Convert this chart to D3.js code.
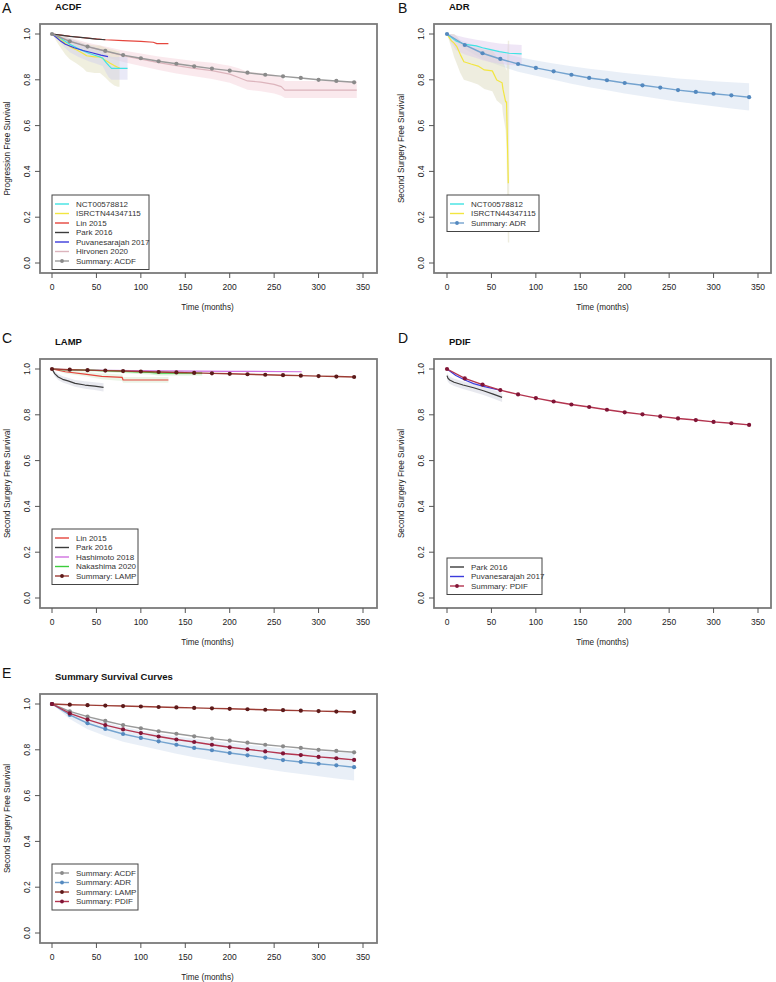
<!DOCTYPE html>
<html><head><meta charset="utf-8">
<script src="https://cdn.jsdelivr.net/npm/d3@7/dist/d3.min.js"></script>
<style>body{margin:0;background:#fff}svg{display:block}text{font-family:"Liberation Sans",Arial,sans-serif}</style>
</head><body><svg id="c" width="776" height="982"></svg>
<script>
// ---------- data ----------
const xTicks = [0, 50, 100, 150, 200, 250, 300, 350];
const yTicks = [0, 0.2, 0.4, 0.6, 0.8, 1.0];
const yTickLabels = ["0.0", "0.2", "0.4", "0.6", "0.8", "1.0"];

const summaryTimes = [0, 20, 40, 60, 80, 100, 120, 140, 160, 180, 200, 220, 240, 260, 280, 300, 320, 340];
const acdfSummary = [1.000, 0.968, 0.945, 0.926, 0.908, 0.894, 0.881, 0.870, 0.859, 0.849, 0.840, 0.831, 0.822, 0.815, 0.808, 0.800, 0.795, 0.789];
const adrSummary  = [1.000, 0.952, 0.916, 0.891, 0.869, 0.852, 0.837, 0.822, 0.808, 0.798, 0.786, 0.776, 0.766, 0.755, 0.747, 0.739, 0.732, 0.724];
const adrLower    = [1.000, 0.935, 0.890, 0.860, 0.835, 0.818, 0.800, 0.783, 0.767, 0.754, 0.740, 0.728, 0.716, 0.704, 0.694, 0.684, 0.675, 0.666];
const adrUpper    = [1.000, 0.966, 0.940, 0.920, 0.900, 0.884, 0.871, 0.859, 0.848, 0.839, 0.830, 0.822, 0.814, 0.806, 0.800, 0.794, 0.789, 0.785];
const lampSummary = [1.000, 0.997, 0.995, 0.993, 0.991, 0.989, 0.987, 0.985, 0.983, 0.981, 0.979, 0.977, 0.975, 0.973, 0.971, 0.969, 0.967, 0.965];
const pdifSummary = [1.000, 0.959, 0.932, 0.908, 0.889, 0.873, 0.858, 0.845, 0.834, 0.822, 0.811, 0.802, 0.793, 0.784, 0.777, 0.769, 0.763, 0.756];

// Panel A (ACDF) studies
const nctA_t = [0, 5, 12, 20, 30, 42, 50, 57, 61, 64, 67, 85];
const nctA_s = [1, 0.995, 0.975, 0.955, 0.935, 0.915, 0.905, 0.895, 0.875, 0.862, 0.850, 0.850];
const nctA_lo = [1, 0.99, 0.95, 0.92, 0.90, 0.88, 0.87, 0.86, 0.83, 0.81, 0.80, 0.80];
const nctA_hi = [1, 1, 0.99, 0.98, 0.965, 0.95, 0.94, 0.93, 0.915, 0.905, 0.90, 0.90];
const isrA_t = [0, 8, 15, 20, 28, 35, 39, 48, 54, 60, 65, 70, 74, 76];
const isrA_s = [1, 0.98, 0.96, 0.945, 0.93, 0.915, 0.905, 0.90, 0.90, 0.885, 0.873, 0.862, 0.855, 0.852];
const isrA_lo = [1, 0.95, 0.91, 0.89, 0.87, 0.85, 0.835, 0.83, 0.83, 0.81, 0.79, 0.775, 0.77, 0.77];
const isrA_hi = [1, 1, 0.99, 0.98, 0.97, 0.96, 0.955, 0.95, 0.95, 0.94, 0.935, 0.93, 0.925, 0.925];
const linA_t = [0, 10, 25, 40, 60, 80, 100, 114, 118, 131];
const linA_s = [1, 0.995, 0.988, 0.982, 0.975, 0.971, 0.968, 0.964, 0.958, 0.958];
const parkA_t = [0, 10, 20, 35, 50, 60];
const parkA_s = [1, 0.995, 0.990, 0.984, 0.978, 0.975];
const puvA_t = [0, 5, 10, 15, 25, 35, 45, 55, 63];
const puvA_s = [1, 0.985, 0.968, 0.955, 0.940, 0.928, 0.918, 0.908, 0.901];
const hirA_t = [0, 20, 40, 60, 80, 100, 120, 140, 160, 180, 200, 210, 220, 235, 250, 258, 262, 343];
const hirA_s = [1, 0.97, 0.945, 0.925, 0.905, 0.89, 0.875, 0.862, 0.85, 0.84, 0.825, 0.81, 0.795, 0.79, 0.78, 0.77, 0.755, 0.755];
const hirA_lo = [1, 0.955, 0.925, 0.90, 0.878, 0.86, 0.843, 0.828, 0.815, 0.803, 0.787, 0.772, 0.757, 0.75, 0.74, 0.73, 0.72, 0.72];
const hirA_hi = [1, 0.985, 0.962, 0.945, 0.928, 0.915, 0.902, 0.892, 0.882, 0.874, 0.861, 0.85, 0.835, 0.83, 0.822, 0.812, 0.795, 0.795];

// Panel B (ADR) studies
const nctB_t = [0, 5, 10, 20, 33, 40, 48, 59, 70, 84];
const nctB_s = [1, 0.985, 0.97, 0.955, 0.948, 0.94, 0.933, 0.923, 0.916, 0.913];
const nctB_lo = [1, 0.96, 0.93, 0.91, 0.895, 0.885, 0.878, 0.87, 0.865, 0.862];
const nctB_hi = [1, 1, 0.995, 0.985, 0.975, 0.97, 0.965, 0.958, 0.955, 0.952];
const isrB_t = [0, 5, 8, 11, 15, 19, 27, 35, 42, 51, 56, 62, 63, 66, 67, 69];
const isrB_s = [1, 0.97, 0.96, 0.945, 0.91, 0.879, 0.869, 0.86, 0.843, 0.839, 0.799, 0.787, 0.759, 0.704, 0.704, 0.348];
const isrB_bandT = [0, 5, 8, 11, 15, 19, 27, 35, 42, 51, 56, 62, 63, 66, 67, 68.5, 70];
const isrB_lo = [1, 0.94, 0.90, 0.87, 0.83, 0.80, 0.79, 0.78, 0.76, 0.75, 0.71, 0.69, 0.65, 0.58, 0.50, 0.09, 0.09];
const isrB_hi = [1, 1, 1, 0.99, 0.97, 0.95, 0.94, 0.94, 0.93, 0.93, 0.90, 0.90, 0.88, 0.85, 0.84, 0.97, 0.97];

// Panel C (LAMP) studies
const linC_t = [0, 15, 37, 56, 79, 80, 131];
const linC_s = [1, 0.988, 0.978, 0.968, 0.963, 0.952, 0.952];
const linC_lo = [1, 0.98, 0.968, 0.955, 0.948, 0.94, 0.94];
const linC_hi = [1, 0.995, 0.988, 0.98, 0.976, 0.965, 0.965];
const parkC_t = [0, 3, 7, 12, 18, 26, 37, 48, 58];
const parkC_s = [1, 0.98, 0.965, 0.955, 0.948, 0.937, 0.93, 0.925, 0.92];
const parkC_lo = [1, 0.968, 0.952, 0.941, 0.933, 0.922, 0.914, 0.908, 0.902];
const parkC_hi = [1, 0.99, 0.978, 0.968, 0.962, 0.952, 0.946, 0.942, 0.938];
const hashC_t = [0, 20, 60, 120, 200, 281];
const hashC_s = [1, 0.996, 0.994, 0.992, 0.99, 0.988];
const nakaC_t = [0, 10, 40, 80, 110, 120, 169];
const nakaC_s = [1, 0.997, 0.995, 0.99, 0.985, 0.982, 0.982];
const nakaC_lo = [1, 0.993, 0.99, 0.983, 0.976, 0.972, 0.972];
const nakaC_hi = [1, 1, 0.999, 0.996, 0.993, 0.991, 0.991];

// Panel D (PDIF) studies
const parkD_t = [0, 1, 3, 8, 18, 30, 41, 52, 62];
const parkD_s = [0.971, 0.96, 0.952, 0.942, 0.93, 0.918, 0.905, 0.89, 0.876];
const parkD_lo = [0.955, 0.944, 0.936, 0.926, 0.913, 0.9, 0.886, 0.871, 0.856];
const parkD_hi = [0.985, 0.975, 0.967, 0.957, 0.946, 0.935, 0.922, 0.908, 0.895];
const puvD_t = [0, 10, 20, 30, 41, 52, 62];
const puvD_s = [1, 0.972, 0.952, 0.936, 0.924, 0.914, 0.905];

// ---------- styles ----------
const C = {
  nct: "#3fe3e3", isr: "#f2e640", lin: "#e5463d", park: "#3c3c3c", puv: "#3b3bdc", hir: "#dcb4bc",
  hash: "#d070e0", naka: "#3ccc3c",
  acdfL: "#9a9a9a", acdfP: "#8a8a8a", adrL: "#74a3cf", adrP: "#5489bf",
  lampL: "#9c3c34", lampP: "#5c1a1a", pdifL: "#b3344f", pdifP: "#801536"
};

const svg = d3.select("#c");
const cols = [
  {box: [40, 377], range: [52, 363], tickLab: 27, ytitle: 7, letterX: 2},
  {box: [434, 771], range: [447, 758], tickLab: 421, ytitle: 401, letterX: 398}
];
const rowOff = [0, 335, 670];

function zip(t, s) { return t.map((d, i) => ({t: d, s: s[i]})); }
function zipBand(t, lo, hi) { return t.map((d, i) => ({t: d, lo: lo[i], hi: hi[i]})); }

function panel(cfg) {
  const col = cols[cfg.col], off = rowOff[cfg.row];
  const x = d3.scaleLinear().domain([0, 350]).range(col.range);
  const y = d3.scaleLinear().domain([0, 1]).range([263 + off, 34 + off]);
  const g = svg.append("g");
  const top = 24 + off, bot = 273 + off;

  g.append("text").attr("x", col.letterX).attr("y", cfg.letterY).attr("font-size", 14).attr("fill", "#111").text(cfg.letter);
  g.append("text").attr("x", col.box[0] + 15).attr("y", top - 14).attr("font-size", 9.5).attr("font-weight", "bold").attr("fill", "#111").text(cfg.title);

  (cfg.bands || []).forEach(b => {
    const area = d3.area().x(d => x(d.t)).y0(d => y(d.lo)).y1(d => y(d.hi));
    g.append("path").datum(zipBand(b.t, b.lo, b.hi)).attr("d", area)
      .attr("fill", b.color).attr("fill-opacity", b.op || 0.35).attr("stroke", "none");
  });

  (cfg.lines || []).forEach(l => {
    const line = d3.line().x(d => x(d.t)).y(d => y(d.s));
    g.append("path").datum(zip(l.t, l.s)).attr("d", line).attr("fill", "none")
      .attr("stroke", l.color).attr("stroke-width", l.w || 1.2).attr("stroke-linejoin", "round");
  });

  (cfg.summaries || []).forEach(sm => {
    const line = d3.line().x(d => x(d.t)).y(d => y(d.s));
    const data = zip(summaryTimes, sm.s);
    g.append("path").datum(data).attr("d", line).attr("fill", "none")
      .attr("stroke", sm.line).attr("stroke-width", 1.4);
    g.selectAll(null).data(data).enter().append("circle")
      .attr("cx", d => x(d.t)).attr("cy", d => y(d.s)).attr("r", 2.1).attr("fill", sm.pt);
  });

  g.append("rect").attr("x", col.box[0]).attr("y", top).attr("width", col.box[1] - col.box[0])
    .attr("height", bot - top).attr("fill", "none").attr("stroke", "#7a7a7a").attr("stroke-width", 1.8);

  xTicks.forEach(v => {
    g.append("line").attr("x1", x(v)).attr("x2", x(v)).attr("y1", bot).attr("y2", bot + 5).attr("stroke", "#555").attr("stroke-width", 1);
    g.append("text").attr("x", x(v)).attr("y", bot + 17).attr("text-anchor", "middle").attr("font-size", 8.5).attr("fill", "#222").text(v);
  });
  g.append("text").attr("x", (col.range[0] + col.range[1]) / 2).attr("y", bot + 37).attr("text-anchor", "middle")
    .attr("font-size", 8.2).attr("fill", "#222").text("Time (months)");

  yTicks.forEach((v, i) => {
    g.append("line").attr("x1", col.box[0] - 5).attr("x2", col.box[0]).attr("y1", y(v)).attr("y2", y(v)).attr("stroke", "#555").attr("stroke-width", 1);
    g.append("text").attr("transform", `translate(${col.tickLab},${y(v)}) rotate(-90)`).attr("text-anchor", "middle")
      .attr("dominant-baseline", "central").attr("font-size", 8.5).attr("fill", "#222").text(yTickLabels[i]);
  });
  g.append("text").attr("transform", `translate(${col.ytitle},${(top + bot) / 2}) rotate(-90)`).attr("text-anchor", "middle")
    .attr("dominant-baseline", "central").attr("font-size", 8.2).attr("fill", "#222").text(cfg.ylab);

  const L = cfg.legend;
  const lg = g.append("g");
  lg.append("rect").attr("x", L.x).attr("y", L.y).attr("width", L.w).attr("height", L.items.length * 9.5 + 8)
    .attr("fill", "#fff").attr("stroke", "#444").attr("stroke-width", 1);
  L.items.forEach((it, i) => {
    const yy = L.y + 9 + i * 9.5;
    lg.append("line").attr("x1", L.x + 3).attr("x2", L.x + 17).attr("y1", yy).attr("y2", yy)
      .attr("stroke", it.color).attr("stroke-width", 1.4);
    if (it.pt) lg.append("circle").attr("cx", L.x + 10).attr("cy", yy).attr("r", 1.9).attr("fill", it.pt);
    lg.append("text").attr("x", L.x + 24).attr("y", yy).attr("dominant-baseline", "central")
      .attr("font-size", 8).attr("fill", "#333").text(it.label);
  });
}

panel({
  letter: "A", title: "ACDF", ylab: "Progression Free Survival", col: 0, row: 0, letterY: 13,
  bands: [
    {t: hirA_t, lo: hirA_lo, hi: hirA_hi, color: "#f3c9d2", op: 0.4},
    {t: isrA_t, lo: isrA_lo, hi: isrA_hi, color: "#dedcb8", op: 0.45},
    {t: nctA_t, lo: nctA_lo, hi: nctA_hi, color: "#cfcfee", op: 0.45}
  ],
  lines: [
    {t: hirA_t, s: hirA_s, color: C.hir},
    {t: isrA_t, s: isrA_s, color: C.isr},
    {t: nctA_t, s: nctA_s, color: C.nct},
    {t: puvA_t, s: puvA_s, color: C.puv},
    {t: linA_t, s: linA_s, color: C.lin},
    {t: parkA_t, s: parkA_s, color: C.park}
  ],
  summaries: [{s: acdfSummary, line: C.acdfL, pt: C.acdfP}],
  legend: {x: 52, y: 195, w: 97, items: [
    {label: "NCT00578812", color: C.nct},
    {label: "ISRCTN44347115", color: C.isr},
    {label: "Lin 2015", color: C.lin},
    {label: "Park 2016", color: C.park},
    {label: "Puvanesarajah 2017", color: C.puv},
    {label: "Hirvonen 2020", color: C.hir},
    {label: "Summary: ACDF", color: C.acdfL, pt: C.acdfP}
  ]}
});

panel({
  letter: "B", title: "ADR", ylab: "Second Surgery Free Survival", col: 1, row: 0, letterY: 13,
  bands: [
    {t: summaryTimes, lo: adrLower, hi: adrUpper, color: "#c9d8ec", op: 0.4},
    {t: isrB_bandT, lo: isrB_lo, hi: isrB_hi, color: "#dedcc0", op: 0.5},
    {t: nctB_t, lo: nctB_lo, hi: nctB_hi, color: "#dcc8ec", op: 0.45}
  ],
  lines: [
    {t: isrB_t, s: isrB_s, color: C.isr},
    {t: nctB_t, s: nctB_s, color: C.nct}
  ],
  summaries: [{s: adrSummary, line: C.adrL, pt: C.adrP}],
  legend: {x: 447, y: 195, w: 92, items: [
    {label: "NCT00578812", color: C.nct},
    {label: "ISRCTN44347115", color: C.isr},
    {label: "Summary: ADR", color: C.adrL, pt: C.adrP}
  ]}
});

panel({
  letter: "C", title: "LAMP", ylab: "Second Surgery Free Survival", col: 0, row: 1, letterY: 343,
  bands: [
    {t: parkC_t, lo: parkC_lo, hi: parkC_hi, color: "#d8dbe4", op: 0.6},
    {t: linC_t, lo: linC_lo, hi: linC_hi, color: "#d7ecd0", op: 0.5},
    {t: nakaC_t, lo: nakaC_lo, hi: nakaC_hi, color: "#b8e8b8", op: 0.5}
  ],
  lines: [
    {t: linC_t, s: linC_s, color: C.lin},
    {t: parkC_t, s: parkC_s, color: C.park},
    {t: hashC_t, s: hashC_s, color: C.hash},
    {t: nakaC_t, s: nakaC_s, color: C.naka}
  ],
  summaries: [{s: lampSummary, line: C.lampL, pt: C.lampP}],
  legend: {x: 52, y: 529, w: 86, items: [
    {label: "Lin 2015", color: C.lin},
    {label: "Park 2016", color: C.park},
    {label: "Hashimoto 2018", color: C.hash},
    {label: "Nakashima 2020", color: C.naka},
    {label: "Summary: LAMP", color: C.lampL, pt: C.lampP}
  ]}
});

panel({
  letter: "D", title: "PDIF", ylab: "Second Surgery Free Survival", col: 1, row: 1, letterY: 343,
  bands: [
    {t: parkD_t, lo: parkD_lo, hi: parkD_hi, color: "#d8dbe4", op: 0.6}
  ],
  lines: [
    {t: parkD_t, s: parkD_s, color: C.park},
    {t: puvD_t, s: puvD_s, color: C.puv}
  ],
  summaries: [{s: pdifSummary, line: C.pdifL, pt: C.pdifP}],
  legend: {x: 447, y: 558, w: 95, items: [
    {label: "Park 2016", color: C.park},
    {label: "Puvanesarajah 2017", color: C.puv},
    {label: "Summary: PDIF", color: C.pdifL, pt: C.pdifP}
  ]}
});

panel({
  letter: "E", title: "Summary Survival Curves", ylab: "Second Surgery Free Survival", col: 0, row: 2, letterY: 678,
  bands: [
    {t: summaryTimes, lo: adrLower, hi: adrUpper, color: "#c9d8ec", op: 0.4}
  ],
  lines: [],
  summaries: [
    {s: acdfSummary, line: C.acdfL, pt: C.acdfP},
    {s: adrSummary, line: C.adrL, pt: C.adrP},
    {s: lampSummary, line: C.lampL, pt: C.lampP},
    {s: pdifSummary, line: C.pdifL, pt: C.pdifP}
  ],
  legend: {x: 52, y: 864, w: 86, items: [
    {label: "Summary: ACDF", color: C.acdfL, pt: C.acdfP},
    {label: "Summary: ADR", color: C.adrL, pt: C.adrP},
    {label: "Summary: LAMP", color: C.lampL, pt: C.lampP},
    {label: "Summary: PDIF", color: C.pdifL, pt: C.pdifP}
  ]}
});
</script></body></html>
